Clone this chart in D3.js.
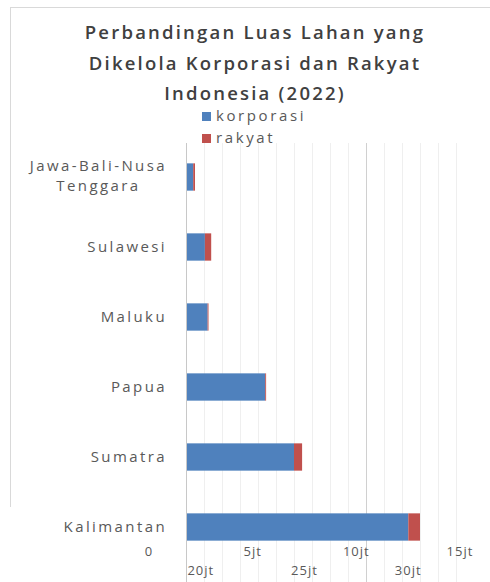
<!DOCTYPE html>
<html>
<head>
<meta charset="utf-8">
<script src="https://cdn.jsdelivr.net/npm/d3@7"></script>
<style>
  html, body { margin: 0; padding: 0; background: #fff; }
  svg { display: block; }
  text { font-family: "Open Sans", "DejaVu Sans", sans-serif; }
</style>
</head>
<body>
<svg id="chart" width="490" height="582"></svg>
<script>
// ---- data ----
const categories = ["Jawa-Bali-Nusa Tenggara", "Sulawesi", "Maluku", "Papua", "Sumatra", "Kalimantan"];
const korporasi = [0.4, 1.05, 1.2, 4.4, 6.0, 12.35];
const rakyat    = [0.1, 0.35, 0.05, 0.05, 0.45, 0.65];
const seriesNames = ["korporasi", "rakyat"];
const tickLabels = ["0", "20jt", "5jt", "25jt", "10jt", "30jt", "15jt"];
const titleLines = ["Perbandingan  Luas Lahan yang", "Dikelola Korporasi  dan Rakyat", "Indonesia  (2022)"];

const colors = { korporasi: "#4F81BD", rakyat: "#C0504D" };

const svg = d3.select("#chart");

// chart border (partial, as in reference)
svg.append("line").attr("x1", 10).attr("x2", 490).attr("y1", 7.5).attr("y2", 7.5)
  .attr("stroke", "#d9d9d9");
svg.append("line").attr("x1", 10.5).attr("x2", 10.5).attr("y1", 7).attr("y2", 507)
  .attr("stroke", "#d9d9d9");

// scales
const x = d3.scaleLinear().domain([0, 15]).range([186, 456]);
const y = d3.scaleBand().domain(categories).range([142, 562]).paddingInner(0.61).paddingOuter(0.305);

// gridlines
const minor = d3.range(1, 16).filter(v => v !== 10);
svg.append("g").selectAll("line").data(minor).join("line")
  .attr("x1", d => Math.round(x(d)) + 0.5).attr("x2", d => Math.round(x(d)) + 0.5)
  .attr("y1", 143).attr("y2", 582)
  .attr("stroke", "#efefef").attr("stroke-width", 1);
svg.append("line")
  .attr("x1", Math.round(x(10)) + 0.5).attr("x2", Math.round(x(10)) + 0.5)
  .attr("y1", 143).attr("y2", 582)
  .attr("stroke", "#d0d0d0");

// stacked data
const rows = categories.map((c, i) => ({ cat: c, korporasi: korporasi[i], rakyat: rakyat[i] }));
const stack = d3.stack().keys(seriesNames)(rows);

svg.append("g").selectAll("g").data(stack).join("g")
  .attr("fill", d => colors[d.key])
  .selectAll("rect").data(d => d).join("rect")
  .attr("x", d => x(d[0]))
  .attr("width", d => x(d[1]) - x(d[0]))
  .attr("y", d => y(d.data.cat))
  .attr("height", y.bandwidth());

// y axis line
svg.append("line").attr("x1", 186.5).attr("x2", 186.5).attr("y1", 143).attr("y2", 582)
  .attr("stroke", "#c8c8c8");

// category labels
const catG = svg.append("g").attr("fill", "#595959").attr("font-size", 15).attr("letter-spacing", 2.4);
categories.forEach(c => {
  const cy = y(c) + y.bandwidth() / 2;
  const parts = c === "Jawa-Bali-Nusa Tenggara" ? ["Jawa-Bali-Nusa", "Tenggara"] : [c];
  if (parts.length === 1) {
    catG.append("text").attr("x", 167).attr("y", cy).attr("dy", "0.35em")
      .attr("text-anchor", "end").text(parts[0]);
  } else {
    const t1 = catG.append("text").attr("x", 167).attr("y", cy - 11).attr("dy", "0.35em")
      .attr("text-anchor", "end").text(parts[0]);
    const w = t1.node().getComputedTextLength();
    catG.append("text").attr("x", 167 - w / 2).attr("y", cy + 9).attr("dy", "0.35em")
      .attr("text-anchor", "middle").text(parts[1]);
  }
});

// x tick labels (staggered)
const xl = d3.scalePoint().domain(tickLabels).range([149, 460]);
svg.append("g").attr("fill", "#595959").attr("font-size", 13).attr("letter-spacing", 1)
  .selectAll("text").data(tickLabels).join("text")
  .attr("x", d => xl(d))
  .attr("y", (d, i) => i % 2 === 0 ? 556 : 575)
  .attr("text-anchor", "middle")
  .text(d => d);

// title
svg.append("g").attr("fill", "#404040").attr("font-size", 18.5).attr("font-weight", 600)
  .attr("letter-spacing", 2.2)
  .selectAll("text").data(titleLines).join("text")
  .attr("x", 255).attr("y", (d, i) => 39 + i * 30.5)
  .attr("text-anchor", "middle")
  .text(d => d);

// legend
const lg = svg.append("g").selectAll("g").data(seriesNames).join("g")
  .attr("transform", (d, i) => `translate(202, ${112 + i * 22})`);
lg.append("rect").attr("width", 9).attr("height", 9).attr("fill", d => colors[d]);
lg.append("text").attr("x", 14).attr("y", 9).attr("font-size", 15).attr("letter-spacing", 2.6)
  .attr("fill", "#595959").text(d => d);
</script>
</body>
</html>
